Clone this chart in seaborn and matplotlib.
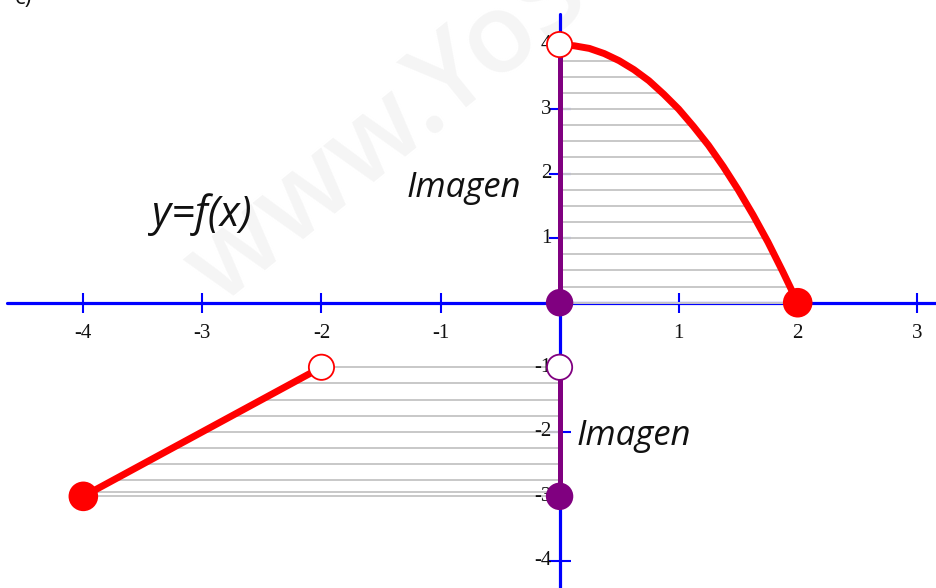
import numpy as np
import pandas as pd
import matplotlib
matplotlib.use("Agg")
import matplotlib.pyplot as plt
import seaborn as sns

# datos
curva_x = [0, 0.125, 0.25, 0.375, 0.5, 0.625, 0.75, 0.875, 1,
           1.125, 1.25, 1.375, 1.5, 1.625, 1.75, 1.875, 2]
curva_y = [4, 3.98, 3.94, 3.86, 3.75, 3.61, 3.44, 3.23, 3,
           2.73, 2.44, 2.11, 1.75, 1.36, 0.94, 0.48, 0]
recta_x = [-4, -2]
recta_y = [-3, -1]

xticks = [-4, -3, -2, -1, 1, 2, 3]
yticks = [-4, -3, -2, -1, 1, 2, 3, 4]

# puntos: (x, y, relleno, borde)
puntos_x = [2, -4, -2, 0, 0, 0, 0]
puntos_y = [0, -3, -1, 4, -1, 0, -3]
puntos_relleno = ["red", "red", "white", "white", "white", "purple", "purple"]
puntos_borde = ["red", "red", "red", "red", "purple", "purple", "purple"]
puntos_tam = [400, 400, 330, 330, 330, 340, 340]

# imagen (tramos sobre el eje y)
imagen_sup = [0, 4]
imagen_inf = [-3, -1]

sns.set_style("white")
fig = plt.figure(figsize=(9.37, 5.88), dpi=100)
ax = fig.add_axes([0, 0, 1, 1])
ax.set_xlim(-4.70, 3.17)
ax.set_ylim(-4.42, 4.69)
ax.axis("off")

azul = "#0000ff"
gris = "#c8c8c8"

# marca de agua
ax.text(-2.85, -0.05, "www.YoSoyTuProfe.com", rotation=39, rotation_mode="anchor",
        ha="left", va="baseline", fontsize=80, fontweight="semibold",
        family="Open Sans", color="#f5f5f5", zorder=0)

# ejes
ax.plot([-4.64, 3.17], [0, 0], color=azul, lw=2.3, zorder=1)
ax.plot([0, 0], [-4.42, 4.48], color=azul, lw=2.3, zorder=1)
ax.plot(xticks, [0] * len(xticks), ls="none", marker="|", ms=14, mew=1.5, color=azul, zorder=1)
ax.plot([0] * len(yticks), yticks, ls="none", marker="_", ms=16, mew=1.5, color=azul, zorder=1)

for t in xticks:
    ax.text(t, -0.47, str(t), ha="center", va="center", fontsize=15,
            family="Liberation Serif", color="#111111")
for t in yticks:
    ax.text(-0.07, t, str(t), ha="right", va="center", fontsize=15,
            family="Liberation Serif", color="#111111")

# rayado gris hasta la grafica
niv_sup = np.arange(0, 4, 0.25)
fin_sup = np.interp(niv_sup, curva_y[::-1], curva_x[::-1])
ax.hlines(niv_sup, 0, fin_sup, color=gris, lw=1.4, zorder=2)
niv_inf = np.append(np.arange(-1, -3.01, -0.25), -2.93)
fin_inf = np.interp(niv_inf, recta_y, recta_x)
ax.hlines(niv_inf, fin_inf, 0, color=gris, lw=1.4, zorder=2)

# funcion
df_curva = pd.DataFrame({"x": curva_x, "y": curva_y})
df_recta = pd.DataFrame({"x": recta_x, "y": recta_y})
sns.lineplot(data=df_curva, x="x", y="y", sort=False, estimator=None,
             color="red", lw=5, ax=ax, zorder=4)
sns.lineplot(data=df_recta, x="x", y="y", sort=False, estimator=None,
             color="red", lw=5, ax=ax, zorder=4)

# imagen
ax.plot([0, 0], imagen_sup, color="purple", lw=3.6, zorder=3)
ax.plot([0, 0], imagen_inf, color="purple", lw=3.6, zorder=3)

df_p = pd.DataFrame({"x": puntos_x, "y": puntos_y})
sns.scatterplot(data=df_p, x="x", y="y", ax=ax, s=puntos_tam, c=puntos_relleno,
                edgecolor=puntos_borde, linewidth=1.3, zorder=5)
ax.set_xlabel("")
ax.set_ylabel("")

# textos
ax.text(-0.32, 1.77, "Imagen", ha="right", va="center", fontsize=25,
        family="Open Sans", style="italic", color="#111111")
ax.text(0.14, -2.06, "Imagen", ha="left", va="center", fontsize=25,
        family="Open Sans", style="italic", color="#111111")
ax.text(-3.42, 1.36, "y=f(x)", ha="left", va="center", fontsize=30,
        family="Open Sans", style="italic", color="#111111")
ax.text(-4.58, 4.72, "c)", ha="left", va="center", fontsize=16,
        family="Open Sans", color="#111111")

fig.savefig("out.png", dpi=100)
